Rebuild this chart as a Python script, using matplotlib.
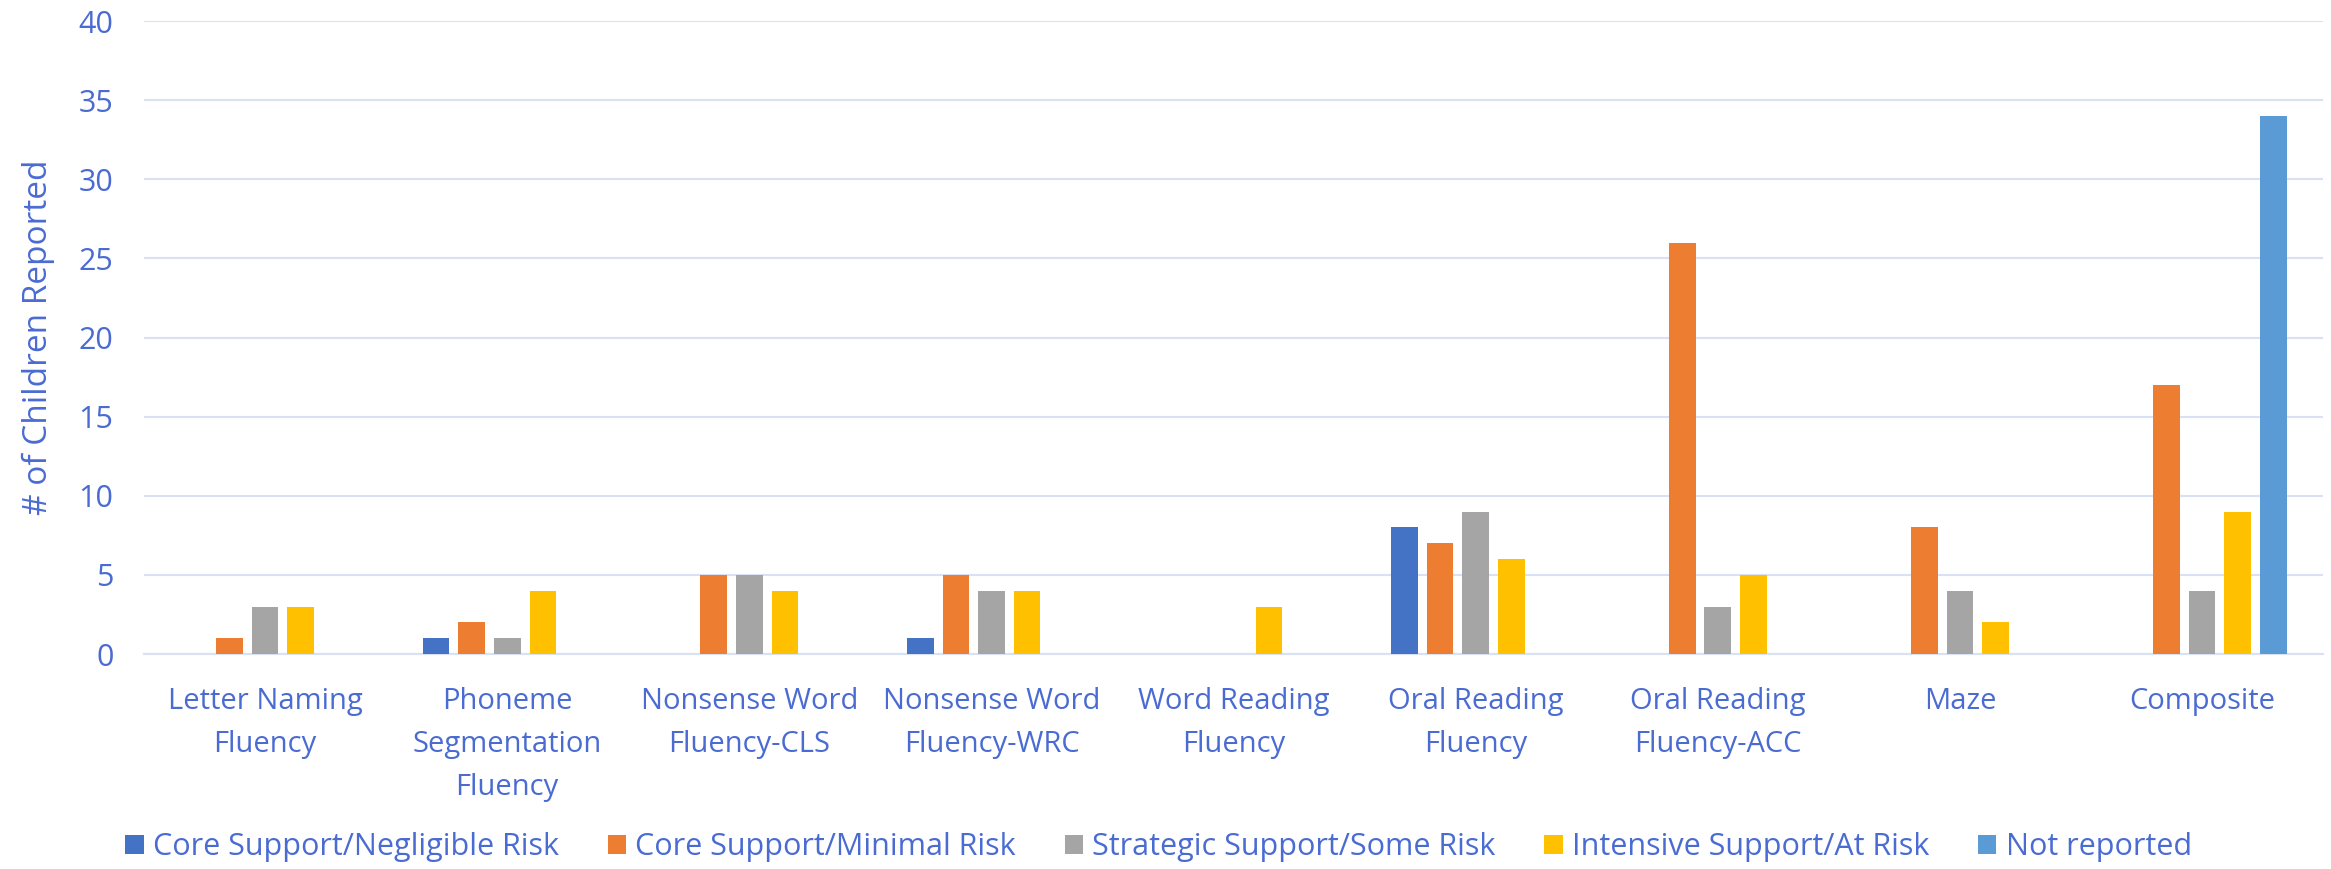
import matplotlib
matplotlib.use("Agg")
import matplotlib.pyplot as plt
import numpy as np

categories = ["Letter Naming\nFluency", "Phoneme\nSegmentation\nFluency", "Nonsense Word\nFluency-CLS",
              "Nonsense Word\nFluency-WRC", "Word Reading\nFluency", "Oral Reading\nFluency",
              "Oral Reading\nFluency-ACC", "Maze", "Composite"]
series_names = ["Core Support/Negligible Risk", "Core Support/Minimal Risk",
                "Strategic Support/Some Risk", "Intensive Support/At Risk", "Not reported"]
negligible = [0, 1, 0, 1, 0, 8, 0, 0, 0]
minimal = [1, 2, 5, 5, 0, 7, 26, 8, 17]
some_risk = [3, 1, 5, 4, 0, 9, 3, 4, 4]
at_risk = [3, 4, 4, 4, 3, 6, 5, 2, 9]
not_reported = [0, 0, 0, 0, 0, 0, 0, 0, 34]
yticks = [0, 5, 10, 15, 20, 25, 30, 35, 40]

colors = ["#4472C4", "#ED7D31", "#A5A5A5", "#FFC000", "#5B9BD5"]
text_color = "#4A6BD2"
grid_color = "#D9E1F5"

plt.rcParams['font.family'] = ['Open Sans', 'DejaVu Sans']

fig = plt.figure(figsize=(23.31, 8.69), dpi=100)
ax = fig.add_axes([0.0618, 0.2474, 0.9348, 0.7284])

x = np.arange(len(categories))
step = 0.147
width = 0.11
all_series = [negligible, minimal, some_risk, at_risk, not_reported]
for i, (vals, name, c) in enumerate(zip(all_series, series_names, colors)):
    ax.bar(x + (i - 2) * step, vals, width=width, color=c, label=name, zorder=3)

ax.set_xlim(-0.5, len(categories) - 0.5)
ax.set_ylim(0, 40)
ax.set_yticks(yticks)
ax.set_yticklabels([str(t) for t in yticks])
ax.set_xticks(x)
ax.set_xticklabels(categories, fontsize=21, color=text_color, linespacing=1.62)
ax.tick_params(axis='y', labelsize=22, labelcolor=text_color, length=0, pad=22)
ax.tick_params(axis='x', length=0, pad=24)
ax.yaxis.grid(True, color=grid_color, linewidth=1.5, zorder=0)
for s in ["top", "right", "left"]:
    ax.spines[s].set_visible(False)
ax.spines["bottom"].set_color(grid_color)
ax.spines["bottom"].set_linewidth(1.5)
ax.set_ylabel("# of Children Reported", fontsize=24, color=text_color, labelpad=17)

leg = fig.legend(loc="lower center", bbox_to_anchor=(0.497, -0.024), ncol=5, frameon=False,
                 fontsize=22, handlelength=0.6, handleheight=0.6, handletextpad=0.3,
                 columnspacing=1.6, labelcolor=text_color)

fig.savefig("out.png", dpi=100, facecolor="white")
